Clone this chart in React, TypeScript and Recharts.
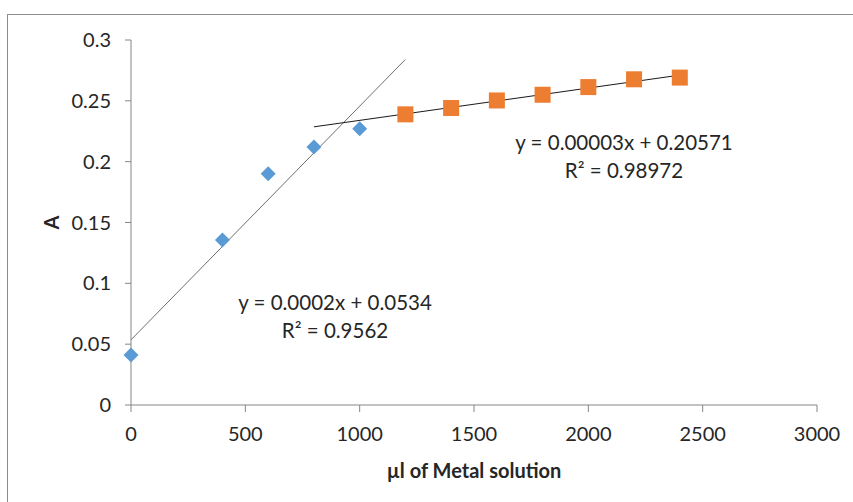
import { ScatterChart, Scatter, XAxis, YAxis, Label } from 'recharts';

// µl of metal solution vs absorbance
const riseX = [0, 400, 600, 800, 1000];
const riseA = [0.041, 0.1356, 0.19, 0.212, 0.227];
const plateauX = [1200, 1400, 1600, 1800, 2000, 2200, 2400];
const plateauA = [0.2389, 0.2441, 0.2503, 0.255, 0.2613, 0.2677, 0.2691];

const xTicks = [0, 500, 1000, 1500, 2000, 2500, 3000];
const yTicks = [0, 0.05, 0.1, 0.15, 0.2, 0.25, 0.3];

const riseEq = ['y = 0.0002x + 0.0534', 'R² = 0.9562'];
const plateauEq = ['y = 0.00003x + 0.20571', 'R² = 0.98972'];

// trend line ranges (Excel forecast)
const riseRange = [0, 1200];
const plateauRange = [800, 2400];

const FONT = 'Lato, "Open Sans", sans-serif';
const AXIS = '#868686';

function fit(xs: number[], ys: number[]) {
  const n = xs.length;
  const mx = xs.reduce((a, b) => a + b, 0) / n;
  const my = ys.reduce((a, b) => a + b, 0) / n;
  let sxy = 0;
  let sxx = 0;
  xs.forEach((x, i) => {
    sxy += (x - mx) * (ys[i] - my);
    sxx += (x - mx) * (x - mx);
  });
  const slope = sxy / sxx;
  return { slope, intercept: my - slope * mx };
}

function trend(xs: number[], ys: number[], range: number[]) {
  const f = fit(xs, ys);
  return range.map((x) => ({ x, y: f.intercept + f.slope * x }));
}

const riseData = riseX.map((x, i) => ({ x, y: riseA[i] }));
const plateauData = plateauX.map((x, i) => ({ x, y: plateauA[i] }));
const riseTrend = trend(riseX, riseA, riseRange);
const plateauTrend = trend(plateauX, plateauA, plateauRange);

const Diamond = (props: any) => {
  const { cx, cy } = props;
  const r = 7.5;
  return (
    <path
      d={`M${cx},${cy - r}L${cx + r},${cy}L${cx},${cy + r}L${cx - r},${cy}Z`}
      fill="#5B9BD5"
    />
  );
};

const Square = (props: any) => {
  const { cx, cy } = props;
  return <rect x={cx - 8} y={cy - 8} width={16} height={16} fill="#ED7D31" />;
};

const NoDot = () => <g />;

const eqStyle: React.CSSProperties = {
  position: 'absolute',
  fontFamily: FONT,
  fontSize: 20.5,
  color: '#262626',
  textAlign: 'center',
  lineHeight: '28px',
  whiteSpace: 'nowrap',
  transform: 'translateX(-50%)',
};

export default function App() {
  return (
    <div style={{ position: 'absolute', left: 0, top: 0, width: 853, height: 502, overflow: 'hidden', background: '#fff' }}>
      <div
        style={{
          position: 'absolute',
          left: 7,
          top: 14,
          width: 900,
          height: 600,
          border: '1px solid #8c8c8c',
        }}
      />
      <ScatterChart
        width={853}
        height={502}
        margin={{ top: 40, right: 36, left: 71, bottom: 37 }}
        style={{ position: 'absolute', left: 0, top: 0 }}
      >
        <XAxis
          type="number"
          dataKey="x"
          domain={[0, 3000]}
          ticks={xTicks}
          height={60}
          stroke={AXIS}
          tickSize={7}
          tickMargin={15}
          tick={{ fontSize: 20, fill: '#262626', fontFamily: FONT }}
        >
          <Label
            value="µl of Metal solution"
            position="insideBottom"
            offset={-13}
            style={{ fontSize: 20, fontWeight: 700, fill: '#262626', fontFamily: FONT }}
          />
        </XAxis>
        <YAxis
          type="number"
          dataKey="y"
          domain={[0, 0.3]}
          ticks={yTicks}
          width={60}
          stroke={AXIS}
          tickSize={6}
          tickMargin={14}
          tickFormatter={(v: number) => String(v)}
          tick={{ fontSize: 20, fill: '#262626', fontFamily: FONT }}
        >
          <Label
            value="A"
            angle={-90}
            position="insideLeft"
            offset={-19}
            style={{ fontSize: 20, fontWeight: 700, fill: '#262626', fontFamily: FONT, textAnchor: 'middle' }}
          />
        </YAxis>
        <Scatter
          data={riseTrend}
          line={{ stroke: '#6e6e6e', strokeWidth: 1 }}
          shape={NoDot}
          isAnimationActive={false}
        />
        <Scatter
          data={plateauTrend}
          line={{ stroke: '#1a1a1a', strokeWidth: 1 }}
          shape={NoDot}
          isAnimationActive={false}
        />
        <Scatter data={riseData} shape={Diamond} isAnimationActive={false} />
        <Scatter data={plateauData} shape={Square} isAnimationActive={false} />
      </ScatterChart>
      <div style={{ ...eqStyle, left: 335, top: 288 }}>
        {riseEq[0]}
        <br />
        {riseEq[1]}
      </div>
      <div style={{ ...eqStyle, left: 624, top: 128 }}>
        {plateauEq[0]}
        <br />
        {plateauEq[1]}
      </div>
    </div>
  );
}
